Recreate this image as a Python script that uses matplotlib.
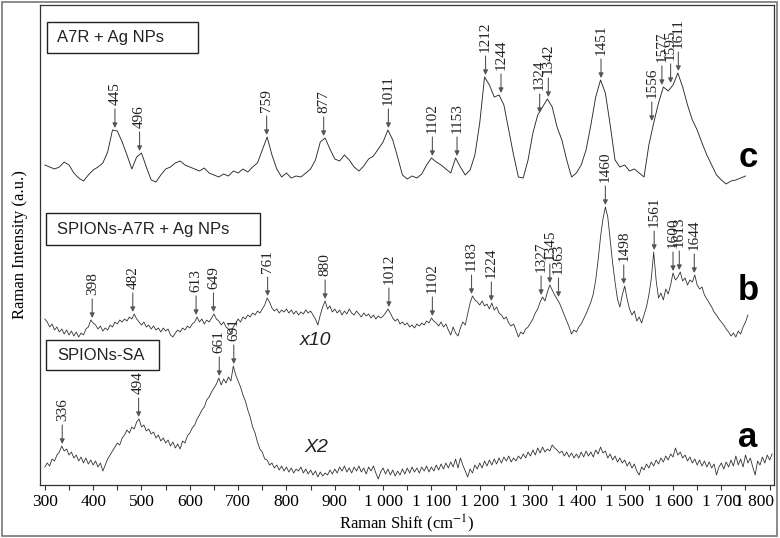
import numpy as np
import matplotlib
matplotlib.use('Agg')
from matplotlib import pyplot as plt
from matplotlib.patches import Rectangle
import matplotlib.transforms as mtransforms

plt.rcParams['font.family'] = 'Liberation Serif'
plt.rcParams['mathtext.fontset'] = 'stix'

## Spectra (intensity in arbitrary units, already stacked with offsets)
# c: A7R + Ag NPs, one value every 10 cm-1 from 300
c_start, c_step = 300, 10
c_int = [320, 318, 316, 318, 323, 320, 312, 307, 304, 310,
         315, 318, 322, 333, 355, 354, 343, 330, 316, 328,
         332, 318, 305, 303, 310, 316, 318, 322, 324, 320,
         318, 316, 314, 317, 312, 310, 308, 311, 309, 314,
         312, 316, 313, 318, 322, 335, 348, 330, 316, 308,
         312, 307, 309, 308, 312, 316, 325, 343, 347, 336,
         326, 324, 330, 325, 318, 314, 319, 326, 329, 336,
         343, 355, 345, 328, 310, 306, 309, 307, 311, 320,
         327, 323, 320, 316, 312, 327, 318, 310, 315, 330,
         362, 408, 400, 388, 390, 380, 355, 330, 308, 307,
         325, 352, 370, 378, 386, 378, 358, 345, 325, 308,
         312, 320, 335, 360, 388, 405, 392, 360, 325, 318,
         320, 314, 316, 312, 308, 340, 362, 382, 398, 394,
         400, 412, 398, 380, 365, 355, 342, 330, 320, 310,
         305, 301, 304, 305, 307, 309]

# b: SPIONs-A7R + Ag NPs (x10), one value every 5 cm-1 from 300
b_start, b_step = 300, 5
b_int = [166, 163, 158, 161, 155, 158, 153, 156, 151, 155, 150, 154, 149, 153, 148, 152, 150, 156, 158, 165,
         162, 160, 156, 159, 154, 157, 155, 160, 158, 163, 161, 165, 163, 166, 164, 168, 166, 171, 166, 163,
         160, 163, 158, 160, 156, 159, 155, 157, 153, 157, 154, 156, 150, 148, 152, 155, 153, 157, 155, 159,
         157, 161, 163, 168, 163, 166, 161, 165, 163, 167, 171, 166, 164, 160, 163, 158, 156, 152, 158, 162,
         166, 163, 168, 166, 170, 168, 172, 170, 174, 172, 176, 180, 187, 183, 177, 174, 176, 172, 175, 173,
         176, 172, 175, 171, 174, 170, 173, 171, 175, 172, 174, 170, 166, 160, 170, 178, 184, 176, 179, 173,
         176, 172, 175, 170, 174, 171, 176, 172, 170, 174, 171, 168, 172, 169, 171, 167, 170, 166, 169, 167,
         169, 172, 176, 172, 167, 164, 166, 161, 163, 160, 162, 158, 160, 157, 161, 159, 162, 160, 164, 162,
         167, 164, 162, 159, 163, 158, 161, 155, 150, 158, 152, 149, 157, 163, 160, 171, 182, 189, 185, 183,
         180, 184, 179, 181, 176, 182, 175, 178, 172, 170, 166, 168, 162, 159, 161, 155, 148, 153, 151, 156,
         158, 162, 166, 172, 176, 183, 188, 184, 193, 200, 195, 190, 186, 182, 176, 170, 164, 158, 151, 155,
         153, 158, 161, 166, 171, 177, 183, 191, 205, 225, 248, 266, 278, 268, 245, 222, 203, 186, 178, 190,
         199, 186, 176, 170, 174, 164, 168, 162, 170, 178, 190, 206, 233, 205, 187, 192, 185, 196, 191, 200,
         212, 205, 208, 213, 204, 207, 200, 205, 203, 210, 200, 196, 198, 190, 186, 182, 178, 173, 170, 166,
         163, 160, 156, 153, 149, 152, 148, 154, 151, 158, 163, 170]

# a: SPIONs-SA (X2), one value every 5 cm-1 from 300
a_start, a_step = 300, 5
a_int = [18, 22, 19, 26, 24, 30, 33, 39, 34, 36, 30, 33, 27, 30, 24, 28, 22, 27, 21, 25,
         20, 24, 18, 22, 14, 20, 26, 30, 34, 38, 42, 40, 47, 50, 55, 52, 58, 56, 63, 66,
         58, 60, 54, 56, 51, 53, 47, 50, 44, 47, 42, 45, 39, 43, 37, 41, 36, 44, 42, 49,
         52, 57, 60, 66, 70, 75, 78, 85, 88, 93, 97, 101, 107, 100, 106, 102, 108, 104, 119, 110,
         104, 98, 90, 84, 75, 68, 58, 52, 43, 36, 33, 26, 25, 20, 22, 17, 20, 15, 19, 14,
         18, 13, 17, 12, 16, 14, 18, 12, 16, 11, 15, 10, 14, 8, 13, 9, 12, 10, 15, 11,
         16, 12, 18, 14, 19, 13, 17, 12, 18, 14, 19, 13, 17, 11, 18, 14, 19, 12, 6, 13,
         17, 11, 16, 10, 15, 9, 14, 10, 16, 11, 17, 12, 18, 13, 17, 12, 18, 14, 19, 13,
         18, 14, 20, 15, 21, 16, 22, 17, 23, 18, 26, 17, 27, 20, 14, 8, 16, 12, 20, 16,
         22, 17, 24, 19, 25, 20, 26, 21, 27, 22, 28, 24, 29, 23, 27, 24, 29, 26, 31, 27,
         33, 29, 35, 30, 37, 32, 38, 33, 36, 34, 40, 37, 35, 32, 34, 29, 33, 28, 32, 27,
         31, 27, 33, 28, 34, 29, 33, 28, 35, 31, 38, 32, 34, 27, 31, 25, 29, 23, 27, 22,
         25, 19, 23, 17, 21, 14, 10, 18, 15, 21, 17, 23, 19, 25, 21, 27, 23, 29, 25, 31,
         28, 37, 30, 33, 27, 30, 24, 28, 22, 26, 20, 25, 19, 24, 18, 23, 17, 21, 10, 18,
         22, 16, 23, 18, 25, 19, 29, 20, 26, 18, 30, 22, 27, 18, 10, 24, 20, 28, 22, 30,
         25, 31]

c_peaks = [445, 496, 759, 877, 1011, 1102, 1153, 1212, 1244, 1324, 1342, 1451,
           1556, 1577, 1595, 1611]
b_peaks = [398, 482, 613, 649, 761, 880, 1012, 1102, 1183, 1224, 1327, 1345,
           1363, 1460, 1498, 1561, 1600, 1613, 1644]
a_peaks = [336, 494, 661, 691]

tick_vals = list(range(300, 1900, 100))
tick_labels = ['300', '400', '500', '600', '700', '800', '900', '1 000', '1 100',
               '1 200', '1 300', '1 400', '1 500', '1 600', '1 700', '1 800']


def wavenumbers(start, step, vals):
    return start + step * np.arange(len(vals))


fig = plt.figure(figsize=(7.8, 5.38), dpi=100)
ax = fig.add_axes([0.0513, 0.0985, 0.9404, 0.8922])

spectra = [(c_start, c_step, c_int, c_peaks, '#2a2a2a', 0.65),
           (b_start, b_step, b_int, b_peaks, '#333333', 0.6),
           (a_start, a_step, a_int, a_peaks, '#333333', 0.6)]

for start, step, vals, peaks, col, lw in spectra:
    xs = wavenumbers(start, step, vals)
    ys = np.array(vals, dtype=float)
    ax.plot(xs, ys, color=col, lw=lw)
    # arrows + rotated peak labels
    for p in peaks:
        top = ys[np.abs(xs - p) <= 5].max()
        ax.annotate('', xy=(p, top + 2), xytext=(p, top + 21),
                    arrowprops=dict(arrowstyle='-|>', color='#555555', lw=0.8,
                                    mutation_scale=7, shrinkA=0, shrinkB=0))
        ax.text(p, top + 25, str(p), rotation=90, ha='center', va='bottom',
                fontsize=11, color='#222222')

# sample name boxes
boxes = [(304, 432, 313, 31, 'A7R + Ag NPs'),
         (302, 240, 443, 32, 'SPIONs-A7R + Ag NPs'),
         (302, 115, 234, 30, 'SPIONs-SA')]
for bx, by, bw, bh, name in boxes:
    ax.add_patch(Rectangle((bx, by), bw, bh, fill=False, edgecolor='#222222', lw=1.0))
    ax.text(325, by + bh / 2, name, family='Liberation Sans', fontsize=12,
            ha='left', va='center', color='#222222')

ax.text(861, 145, 'x10', family='Liberation Sans', style='italic', fontsize=14,
        ha='center', va='center', color='#222222')
ax.text(861, 38, 'X2', family='Liberation Sans', style='italic', fontsize=14,
        ha='center', va='center', color='#222222')

for letter, ly in [('c', 318), ('b', 185), ('a', 38)]:
    ax.text(1755, ly, letter, family='Liberation Sans', weight='bold', fontsize=25,
            ha='center', va='baseline', color='black')

ax.set_xlim(290, 1808)
ax.set_ylim(0, 480)
ax.set_yticks([])
ax.set_xticks(tick_vals)
ax.set_xticklabels(tick_labels, fontsize=12.5)
ax.set_xticks(list(range(350, 1800, 100)), minor=True)
ax.tick_params(axis='x', which='both', direction='out', length=3.6, width=0.8,
               pad=3, color='#333333')
for s in ax.spines.values():
    s.set_linewidth(0.9)
    s.set_color('#333333')

last = ax.get_xticklabels()[-1]
last.set_horizontalalignment('right')
last.set_transform(last.get_transform() +
                   mtransforms.ScaledTranslation(4 / 100, 0, fig.dpi_scale_trans))

ax.set_xlabel('Raman Shift (cm$^{-1}$)', fontsize=12, labelpad=2)
ax.set_ylabel('Raman Intensity (a.u.)', fontsize=12, labelpad=9)

# thin grey frame round the whole picture
fig.patches.append(Rectangle((0.002, 0.003), 0.994, 0.993, transform=fig.transFigure,
                             fill=False, edgecolor='#777777', lw=1.2))

fig.savefig('out.png', dpi=100)
